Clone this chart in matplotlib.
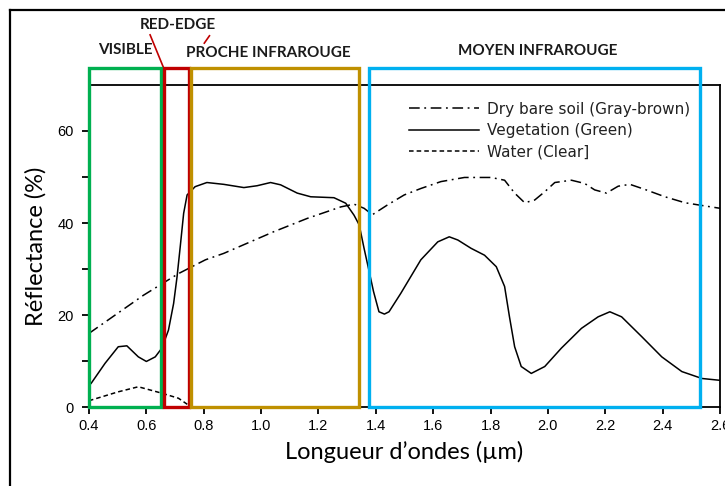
import matplotlib
matplotlib.use("Agg")
import matplotlib.pyplot as plt
from matplotlib.lines import Line2D
from matplotlib.patches import Rectangle

# ---- data ----
veg_x = [0.40, 0.407, 0.456, 0.502, 0.532, 0.572, 0.60, 0.631, 0.654, 0.677, 0.695, 0.707,
         0.718, 0.73, 0.742, 0.77, 0.811, 0.87, 0.94, 0.986, 1.033, 1.068, 1.126, 1.173,
         1.254, 1.295, 1.324, 1.342, 1.359, 1.377, 1.392, 1.411, 1.43, 1.446, 1.487, 1.557,
         1.616, 1.656, 1.686, 1.732, 1.779, 1.82, 1.849, 1.866, 1.884, 1.907, 1.942, 1.989,
         2.047, 2.117, 2.175, 2.216, 2.257, 2.327, 2.397, 2.467, 2.537, 2.60]
veg_y = [4.8, 5.1, 9.5, 13.1, 13.3, 10.9, 9.9, 10.9, 12.8, 16.7, 22.5, 28.3,
         34.8, 42.1, 46.1, 47.9, 48.8, 48.4, 47.7, 48.1, 48.8, 48.3, 46.5, 45.7,
         45.5, 44.3, 41.7, 39.6, 34.5, 29.4, 25.1, 20.7, 20.2, 20.7, 24.7, 32.0,
         35.9, 37.0, 36.3, 34.5, 33.0, 30.5, 26.2, 19.6, 13.1, 8.8, 7.3, 8.8,
         12.8, 17.1, 19.6, 20.7, 19.6, 15.3, 10.9, 7.7, 6.2, 5.8]

soil_x = [0.40, 0.409, 0.59, 0.712, 0.806, 0.87, 1.044, 1.161, 1.278, 1.324, 1.359, 1.388,
          1.44, 1.499, 1.557, 1.627, 1.709, 1.802, 1.849, 1.884, 1.919, 1.954, 1.989, 2.024,
          2.082, 2.128, 2.163, 2.204, 2.245, 2.286, 2.338, 2.408, 2.478, 2.548, 2.60]
soil_y = [16.0, 16.4, 24.3, 29.0, 32.0, 33.4, 38.1, 41.0, 43.5, 44.1, 43.2, 41.8,
          43.9, 46.1, 47.5, 49.0, 49.9, 49.9, 49.3, 46.5, 44.4, 45.0, 46.8, 48.8,
          49.3, 48.6, 47.2, 46.5, 48.0, 48.4, 47.3, 45.7, 44.4, 43.7, 43.2]

water_x = [0.40, 0.407, 0.502, 0.572, 0.654, 0.712, 0.747]
water_y = [1.3, 1.5, 3.3, 4.4, 3.0, 1.9, 0.4]

labels = ["Dry bare soil (Gray-brown)", "Vegetation (Green)", "Water (Clear]"]

band_names = ["VISIBLE", "RED-EDGE", "PROCHE INFRAROUGE", "MOYEN INFRAROUGE"]
band_start = [0.40, 0.66, 0.755, 1.375]
band_end = [0.65, 0.75, 1.34, 2.53]
band_colors = ["#00B050", "#C00000", "#BF9000", "#00B0F0"]

xticks = [0.4, 0.6, 0.8, 1.0, 1.2, 1.4, 1.6, 1.8, 2.0, 2.2, 2.4, 2.6]
xticklabels = ["0.4", "0.6", "0.8", "1.0", "1.2", "1.4", "1.6", "1.8", "2.0", "2.2", "2.4", "2.6"]
yticks = [0, 20, 40, 60]
yminor = [10, 30, 50]

# ---- figure ----
fig = plt.figure(figsize=(7.25, 4.86), dpi=100)
ax = fig.add_axes([89/725, 1-407/486, (720-89)/725, (407-85)/486])
ax.set_xlim(0.4, 2.6)
ax.set_ylim(0, 70)

ax.plot(soil_x, soil_y, color="black", lw=1.1, dashes=(7, 3, 1.2, 3), label=labels[0],
        solid_joinstyle="round")
ax.plot(veg_x, veg_y, color="black", lw=1.1, label=labels[1], solid_joinstyle="round")
ax.plot(water_x, water_y, color="black", lw=1.1, dashes=(3, 2), label=labels[2])

for sp in ["top", "right", "left", "bottom"]:
    ax.spines[sp].set_linewidth(1.3)

ax.set_xticks(xticks)
ax.set_xticklabels(xticklabels, fontfamily="Liberation Sans", fontsize=10.5)
ax.set_yticks(yticks)
ax.set_yticklabels([str(v) for v in yticks], fontfamily="Liberation Sans", fontsize=10.5)
ax.set_yticks(yminor, minor=True)
ax.tick_params(axis="both", which="both", direction="out", length=5, width=1.3, colors="black")
ax.tick_params(axis="y", which="both", pad=6)

ax.set_xlabel("Longueur d\u2019ondes (\u00b5m)", fontfamily="Lato", fontsize=17, labelpad=6)
ax.set_ylabel("R\u00e9flectance (%)", fontfamily="Lato", fontsize=17, labelpad=8)

# band boxes
box_top = 73.7
for s, e, c in zip(band_start, band_end, band_colors):
    ax.add_patch(Rectangle((s, 0), e - s, box_top, fill=False, edgecolor=c,
                           lw=2.4, clip_on=False, zorder=5))

# band labels
label_pos = [(0.526, 77.6), (0.711, 83.0), (1.026, 77.0), (1.966, 77.4)]
for name, (lx, ly) in zip(band_names, label_pos):
    ax.text(lx, ly, name, ha="center", va="center", fontfamily="Lato",
            fontweight="bold", fontsize=11, color="#1a1a1a", clip_on=False)

# red pointers
ax.add_line(Line2D([0.613, 0.659], [80.9, 73.9], color="#C00000", lw=1.2, clip_on=False))
ax.add_line(Line2D([0.820, 0.802], [80.7, 79.1], color="#C00000", lw=1.2, clip_on=False))

leg = ax.legend(loc="upper left", bbox_to_anchor=(401/725, 1-94/486),
                bbox_transform=fig.transFigure, frameon=False,
                handlelength=4.6, handletextpad=0.55, labelspacing=0.42, borderpad=0,
                prop={"family": "DejaVu Sans", "size": 11})
for t in leg.get_texts():
    t.set_color("#222222")

# outer frame of figure
fig.add_artist(Line2D([10/725, 10/725], [0, 1-10/486], color="black", lw=1.6,
                      transform=fig.transFigure))
fig.add_artist(Line2D([10/725, 1], [1-10/486, 1-10/486], color="black", lw=1.6,
                      transform=fig.transFigure))

fig.savefig("out.png", dpi=100)
